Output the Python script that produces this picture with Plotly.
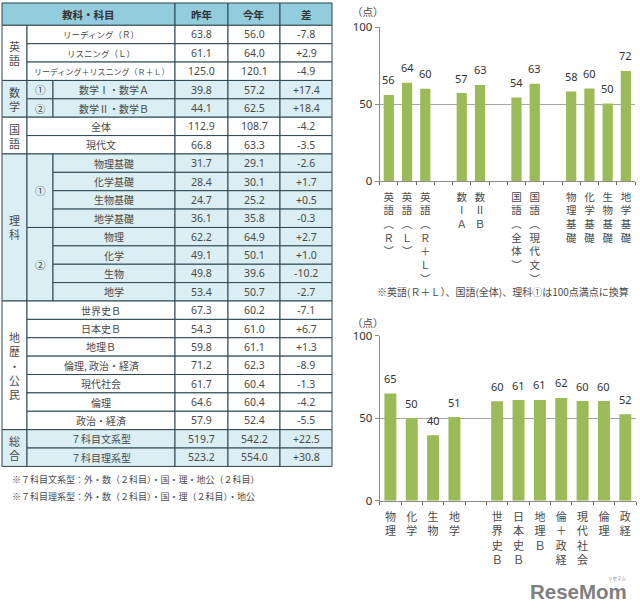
import plotly.graph_objects as go

# ---------- data ----------
sections = ["英語", "数学", "国語", "理科", "地歴・公民", "総合"]
section_rows = [3, 2, 2, 8, 7, 2]
section_shaded = [False, True, False, True, False, True]
groups = [None, None, None, "①", "②", None, None, "①", "①", "①", "①", "②", "②", "②", "②",
          None, None, None, None, None, None, None, None, None]
subjects = ["リーディング（Ｒ）", "リスニング（Ｌ）", "リーディング＋リスニング（Ｒ＋Ｌ）", "数学Ⅰ・数学Ａ", "数学Ⅱ・数学Ｂ",
            "全体", "現代文", "物理基礎", "化学基礎", "生物基礎", "地学基礎", "物理", "化学", "生物", "地学",
            "世界史Ｂ", "日本史Ｂ", "地理Ｂ", "倫理, 政治・経済", "現代社会", "倫理", "政治・経済",
            "７科目文系型", "７科目理系型"]
last_year = ["63.8", "61.1", "125.0", "39.8", "44.1", "112.9", "66.8", "31.7", "28.4", "24.7", "36.1",
             "62.2", "49.1", "49.8", "53.4", "67.3", "54.3", "59.8", "71.2", "61.7", "64.6", "57.9", "519.7", "523.2"]
this_year = ["56.0", "64.0", "120.1", "57.2", "62.5", "108.7", "63.3", "29.1", "30.1", "25.2", "35.8",
             "64.9", "50.1", "39.6", "50.7", "60.2", "61.0", "61.1", "62.3", "60.4", "60.4", "52.4", "542.2", "554.0"]
diffs = ["-7.8", "+2.9", "-4.9", "+17.4", "+18.4", "-4.2", "-3.5", "-2.6", "+1.7", "+0.5", "-0.3",
         "+2.7", "+1.0", "-10.2", "-2.7", "-7.1", "+6.7", "+1.3", "-8.9", "-1.3", "-4.2", "-5.5", "+22.5", "+30.8"]
headers = ["教科・科目", "昨年", "今年", "差"]
table_notes = ["※７科目文系型：外・数（２科目）・国・理・地公（２科目）",
               "※７科目理系型：外・数（２科目）・国・理（２科目）・地公"]

top_labels = ["英語︵Ｒ︶", "英語︵Ｌ︶", "英語︵Ｒ＋Ｌ︶", "", "数ⅠＡ", "数ⅡＢ", "", "国語︵全体︶", "国語︵現代文︶", "",
              "物理基礎", "化学基礎", "生物基礎", "地学基礎"]
top_values = [56.0, 64.0, 60.05, None, 57.2, 62.5, None, 54.35, 63.3, None, 58.2, 60.2, 50.4, 71.6]
top_text = ["56", "64", "60", "", "57", "63", "", "54", "63", "", "58", "60", "50", "72"]
top_note = "※英語(Ｒ＋Ｌ）、国語(全体)、理科①は100点満点に換算"

bottom_labels = ["物理", "化学", "生物", "地学", "", "世界史Ｂ", "日本史Ｂ", "地理Ｂ", "倫＋政経", "現代社会", "倫理", "政経"]
bottom_values = [64.9, 50.1, 39.6, 50.7, None, 60.2, 61.0, 61.1, 62.3, 60.4, 60.4, 52.4]
bottom_text = ["65", "50", "40", "51", "", "60", "61", "61", "62", "60", "60", "52"]

# ---------- style ----------
W, H = 640, 613
FONT = "Noto Sans CJK JP"
TXT = "#4a4a4a"
LINE = "#2b4753"
HEAD = "#93CDDD"
LIGHT = "#DAEEF3"
BAR = "#9BBB59"
GRID = "#a6a6a6"


def px(x):
    return x / W


def py(y):
    return 1 - y / H


fig = go.Figure()
shapes, notes = [], []


def cell(x0, y0, x1, y1, fill):
    shapes.append(dict(type="rect", xref="paper", yref="paper", x0=px(x0), x1=px(x1), y0=py(y0), y1=py(y1),
                       fillcolor=fill, line=dict(color=LINE, width=1), layer="below"))


def label(x, y, text, size=11, color=TXT, **kw):
    notes.append(dict(xref="paper", yref="paper", x=px(x), y=py(y), text=text, showarrow=False,
                      xanchor=kw.pop("xanchor", "center"), yanchor="middle",
                      font=dict(family=kw.pop("family", FONT), size=size, color=color), **kw))


def subject_size(s):
    if any(c in "リスニング" for c in s):
        return 8 if len(s) > 12 else 8.5
    return 10


# ---------- table ----------
XS = [2, 27, 53, 175, 228, 280, 332]
Y0, Y1, RH = 3, 25.3, 18.38

cell(XS[0], Y0, XS[3], Y1, HEAD)
label((XS[0] + XS[3]) / 2, (Y0 + Y1) / 2, f"<b>{headers[0]}</b>", 10.5, "#333")
for i in range(3):
    cell(XS[3 + i], Y0, XS[4 + i], Y1, HEAD)
    label((XS[3 + i] + XS[4 + i]) / 2, (Y0 + Y1) / 2, f"<b>{headers[i + 1]}</b>", 10.5, "#333")

row = 0
for name, count, shaded in zip(sections, section_rows, section_shaded):
    fill = LIGHT if shaded else "white"
    top = Y1 + row * RH
    cell(XS[0], top, XS[1], top + count * RH, fill)
    label((XS[0] + XS[1]) / 2, top + count * RH / 2, "<br>".join(name), 11)
    r = row
    while r < row + count:
        g = groups[r]
        start = XS[1]
        if g is not None:
            n = 1
            while r + n < row + count and groups[r + n] == g:
                n += 1
            start = XS[2]
            cell(XS[1], Y1 + r * RH, XS[2], Y1 + (r + n) * RH, fill)
            label((XS[1] + XS[2]) / 2, Y1 + (r + n / 2) * RH, g, 10.5)
        else:
            n = 1
        for k in range(r, r + n):
            y0, y1 = Y1 + k * RH, Y1 + (k + 1) * RH
            cell(start, y0, XS[3], y1, fill)
            label((start + XS[3]) / 2, (y0 + y1) / 2, subjects[k], subject_size(subjects[k]))
            for j, col in enumerate((last_year, this_year, diffs)):
                cell(XS[3 + j], y0, XS[4 + j], y1, fill)
                label((XS[3 + j] + XS[4 + j]) / 2, (y0 + y1) / 2, col[k], 10.5,
                      family="Noto Sans")
        r += n
    row += count

label(10, 479, table_notes[0], 9, xanchor="left")
label(10, 496, table_notes[1], 9, xanchor="left")


# ---------- charts ----------
def chart(labels, values, texts, xaxis, yaxis, x0, x1, top, bottom, tick_size):
    xs = list(range(len(labels)))
    fig.add_trace(go.Bar(x=xs, y=values, xaxis=xaxis, yaxis=yaxis, width=0.56,
                         marker=dict(color=BAR, line=dict(width=0)), showlegend=False,
                         hoverinfo="skip"))
    ticktext = ["<br>".join(s) for s in labels]
    xkw = dict(domain=[px(x0), px(x1)], range=[-0.5, len(labels) - 0.5], anchor=yaxis, automargin=False,
               tickmode="array", tickvals=xs, ticktext=ticktext, ticks="", ticklabelstandoff=6,
               tickangle=0, showgrid=False, zeroline=False, showline=True, linecolor="#8c8c8c",
               linewidth=1, tickfont=dict(family=FONT, size=tick_size, color=TXT),
               minor=dict(ticks="outside", ticklen=3, tickcolor="#666", tick0=-0.5, dtick=1, showgrid=False))
    ykw = dict(domain=[py(bottom), py(top)], range=[0, 100], anchor=xaxis, tickmode="array", automargin=False,
               tickvals=[0, 50, 100], ticks="outside", ticklen=4, tickcolor="#8c8c8c",
               showgrid=True, gridcolor=GRID, gridwidth=1, zeroline=False, showline=True,
               linecolor="#8c8c8c", linewidth=1, layer="below traces",
               tickfont=dict(family="Noto Sans", size=11.5, color="#333"))
    fig.update_layout({xaxis.replace("x", "xaxis"): xkw, yaxis.replace("y", "yaxis"): ykw})
    for x, v, t in zip(xs, values, texts):
        if v is not None:
            notes.append(dict(xref=xaxis, yref=yaxis, x=x, y=v, text=t, showarrow=False, yanchor="middle",
                              yshift=15, font=dict(family="Noto Sans", size=11, color="#333")))


chart(top_labels, top_values, top_text, "x", "y", 379.7, 635, 27.3, 181, 10.5)
chart(bottom_labels, bottom_values, bottom_text, "x2", "y2", 379.7, 636, 335.7, 500.7, 11)

label(368, 12, "（点）", 10.5)
label(368, 322, "（点）", 10.5)
label(503, 291, top_note, 10)

# watermark
label(578, 591, "<b>ReseMom</b>", 20.5, "#7f7f7f", family="Liberation Sans")
label(617, 578, "リセマム", 4.5, "#7f7f7f")

fig.update_layout(width=W, height=H, margin=dict(l=0, r=0, t=0, b=0), autosize=False,
                  paper_bgcolor="white", plot_bgcolor="white", shapes=shapes, annotations=notes,
                  bargap=0.44)
fig.write_html("out.html", config=dict(displayModeBar=False),
               post_script="document.body.style.margin='0';document.body.style.overflow='hidden';")
